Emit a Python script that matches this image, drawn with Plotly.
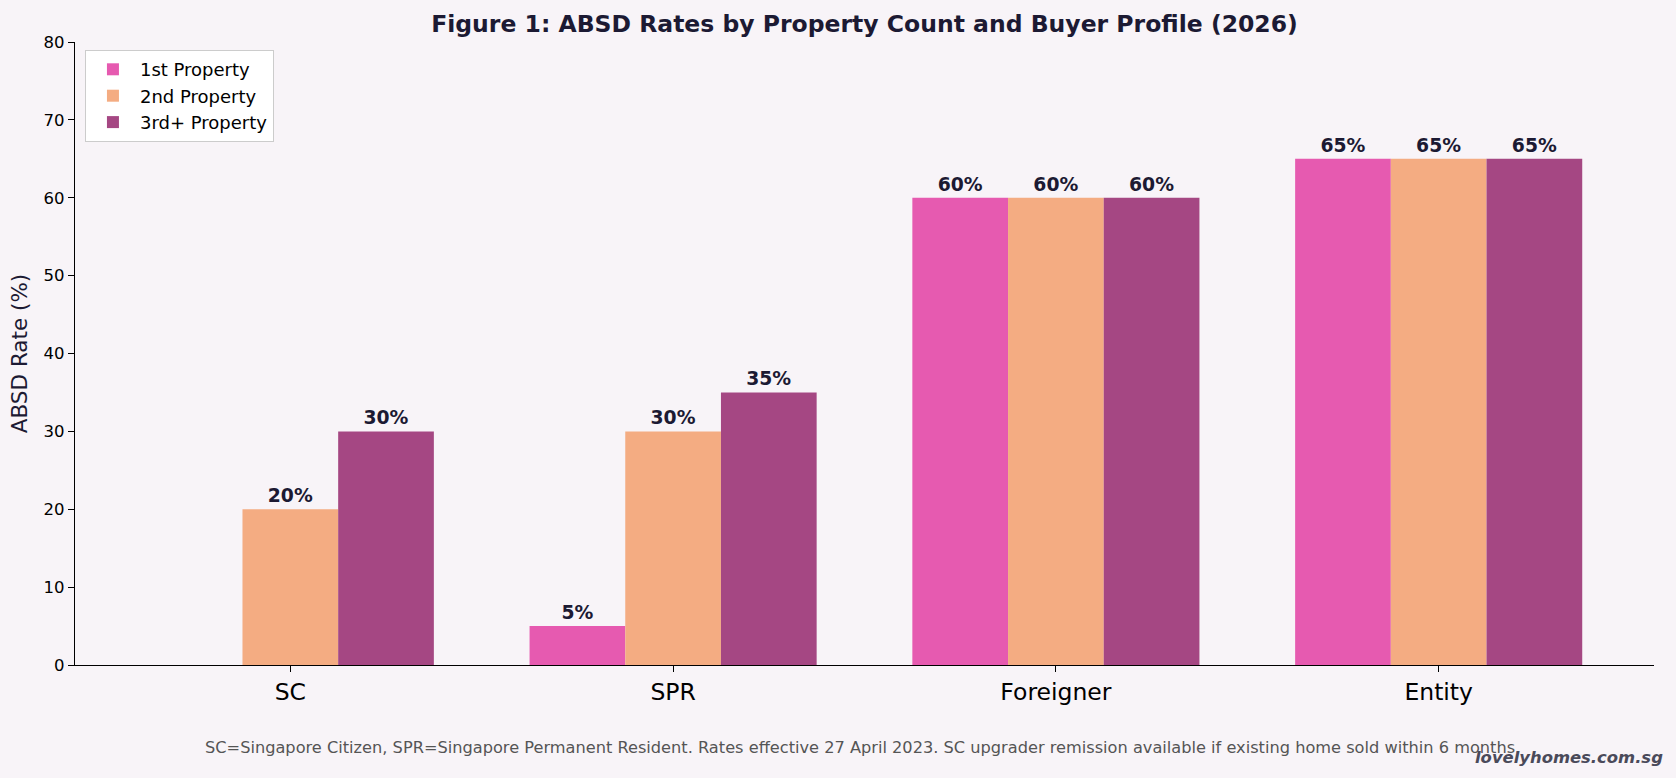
import plotly.graph_objects as go

categories = ["SC", "SPR", "Foreigner", "Entity"]
series_names = ["1st Property", "2nd Property", "3rd+ Property"]
first_property = [0, 5, 60, 65]
second_property = [20, 30, 60, 65]
third_property = [30, 35, 60, 65]
y_ticks = [0, 10, 20, 30, 40, 50, 60, 70, 80]

colors = ["#E65AB0", "#F4AC82", "#A54783"]
BG = "#F8F4F8"
FONT = "DejaVu Sans"

fig = go.Figure()
for name, vals, col in zip(series_names, [first_property, second_property, third_property], colors):
    fig.add_trace(go.Bar(
        x=categories, y=vals, name=name,
        marker=dict(color=col, line=dict(width=0)),
        text=[f"{v}%" if v > 0 else "" for v in vals],
        textposition="outside",
        constraintext="none",
        cliponaxis=False,
        textfont=dict(family=FONT, size=18.8, color="#1C1A33", weight="bold"),
    ))

fig.update_layout(
    width=1676, height=778,
    margin=dict(l=75, r=22, t=42, b=113),
    paper_bgcolor=BG, plot_bgcolor=BG,
    barmode="group", bargap=0.25, bargroupgap=0,
    font=dict(family=FONT, color="#000000"),
    title=dict(
        text="<b>Figure 1: ABSD Rates by Property Count and Buyer Profile (2026)</b>",
        x=(75 + 1654) / 2 / 1676, xanchor="center",
        y=1 - 23.5 / 778, yanchor="middle",
        font=dict(family=FONT, size=23.5, color="#1C1A33"),
    ),
    legend=dict(
        x=0.0063, y=0.987, xanchor="left", yanchor="top",
        bgcolor="#FFFFFF", bordercolor="#CCCCCC", borderwidth=1,
        font=dict(family=FONT, size=18, color="#000000"),
        traceorder="normal",
        itemwidth=44,
        tracegroupgap=2,
    ),
    showlegend=True,
    xaxis=dict(
        range=[-0.5625, 3.5625],
        showgrid=False, zeroline=False,
        showline=True, linecolor="#000000", linewidth=1.3,
        ticks="outside", ticklen=6, tickcolor="#000000",
        tickfont=dict(family=FONT, size=23.5, color="#000000"),
    ),
    yaxis=dict(
        range=[0, 80], tickvals=y_ticks,
        showgrid=False, zeroline=False,
        showline=True, linecolor="#000000", linewidth=1.3,
        ticks="outside", ticklen=6, tickcolor="#000000",
        tickfont=dict(family=FONT, size=16.5, color="#000000"),
        title=dict(text="ABSD Rate (%)", font=dict(family=FONT, size=21.5, color="#1C1A33"), standoff=10),
    ),
    annotations=[
        dict(
            text="SC=Singapore Citizen, SPR=Singapore Permanent Resident. Rates effective 27 April 2023. SC upgrader remission available if existing home sold within 6 months.",
            xref="paper", yref="paper", x=(862 - 75) / 1579, y=(665 - 747) / 623,
            xanchor="center", yanchor="middle", showarrow=False,
            font=dict(family=FONT, size=16.2, color="#555555"),
        ),
        dict(
            text="<b><i>lovelyhomes.com.sg</i></b>",
            xref="paper", yref="paper", x=(1665 - 75) / 1579, y=(665 - 758) / 623,
            xanchor="right", yanchor="middle", showarrow=False,
            font=dict(family=FONT, size=16.4, color="#4A4A5A"),
        ),
    ],
)

fig.write_html("out.html")
